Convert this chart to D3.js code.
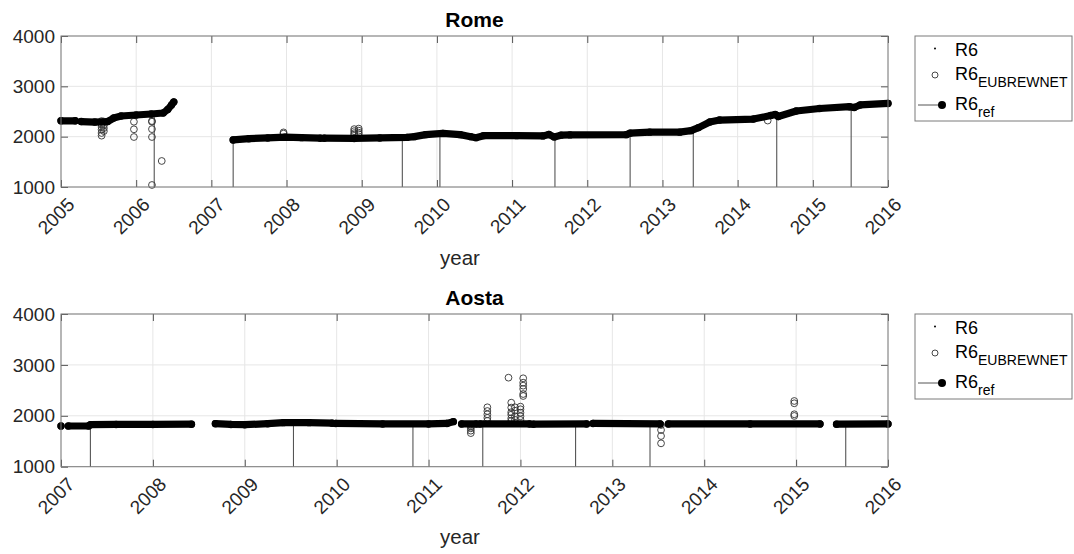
<!DOCTYPE html>
<html>
<head>
<meta charset="utf-8">
<script src="https://cdn.jsdelivr.net/npm/d3@7"></script>
<style>
  html, body { margin: 0; padding: 0; background: #fff; }
  svg { display: block; font-family: "Liberation Sans", Arial, Helvetica, sans-serif; }
</style>
</head>
<body>
<svg id="chart" width="1074" height="554"></svg>
<script>
// ---- Data --------------------------------------------------------------
// Reference R6 per station: [decimal year, R6]; null value = gap in record
const romeRef = [
  [2005.00, 2315], [2005.19, 2315], [2005.22, null],
  [2005.27, 2300], [2005.45, 2290], [2005.62, 2300], [2005.70, 2370], [2005.80, 2410],
  [2006.00, 2430], [2006.20, 2450], [2006.36, 2470], [2006.42, 2540], [2006.47, 2630],
  [2006.50, 2690], [2006.55, null],
  [2007.29, 1935], [2007.50, 1960], [2007.75, 1975], [2007.98, 1990], [2008.20, 1980],
  [2008.45, 1970], [2008.47, null],
  [2008.50, 1970], [2008.90, 1965], [2009.24, 1975], [2009.60, 1985], [2009.70, 2000],
  [2009.85, 2040], [2010.08, 2065], [2010.31, 2040], [2010.45, 2000], [2010.52, 1980],
  [2010.62, 2020], [2011.06, 2020], [2011.41, 2015], [2011.49, 2045], [2011.56, 1995],
  [2011.65, 2030], [2011.77, 2035], [2012.52, 2040], [2012.57, 2070], [2012.83, 2090],
  [2013.23, 2090], [2013.38, 2120], [2013.48, 2180], [2013.63, 2290], [2013.76, 2330],
  [2014.21, 2350], [2014.44, 2420], [2014.50, 2440], [2014.54, 2400], [2014.78, 2510],
  [2015.09, 2560], [2015.49, 2595], [2015.55, 2580], [2015.63, 2630], [2016.00, 2660]
];
const aostaRef = [
  [2007.00, 1800], [2007.03, null],
  [2007.08, 1800], [2007.30, 1800], [2007.32, 1825], [2007.60, 1830], [2008.00, 1830],
  [2008.42, 1835], [2008.50, null],
  [2008.68, 1845], [2008.85, 1830], [2009.00, 1825], [2009.25, 1845], [2009.42, 1865],
  [2009.70, 1865], [2009.95, 1855], [2009.97, null],
  [2009.99, 1850], [2010.50, 1840], [2011.00, 1840], [2011.20, 1850], [2011.27, 1885],
  [2011.30, null],
  [2011.36, 1840], [2011.52, 1840], [2011.54, null],
  [2011.56, 1840], [2012.10, 1840], [2012.12, null],
  [2012.14, 1835], [2012.72, 1840], [2012.75, null],
  [2012.79, 1850], [2013.52, 1840], [2013.56, null],
  [2013.61, 1840], [2014.50, 1840], [2015.26, 1840], [2015.35, null],
  [2015.44, 1835], [2016.00, 1840]
];

// Calibration dates (stems) and their R6_ref values
const romeStemYears  = [2006.24, 2007.29, 2009.54, 2010.04, 2011.57, 2012.57, 2013.41, 2014.52, 2015.51];
const romeStemValues = [2450, 1935, 1985, 2060, 1995, 2060, 2120, 2420, 2595];
const aostaStemYears  = [2007.32, 2009.53, 2010.83, 2011.59, 2012.60, 2013.41, 2015.54];
const aostaStemValues = [1825, 1865, 1840, 1840, 1840, 1840, 1835];

// R6 from EUBREWNET: [decimal year, R6]
const romeEub = [
  [2005.54, 2310], [2005.54, 2246], [2005.54, 2193], [2005.54, 2139], [2005.54, 2073], [2005.54, 2020],
  [2005.57, 2300], [2005.57, 2230], [2005.57, 2170], [2005.57, 2110],
  [2005.97, 2297], [2005.97, 2146], [2005.97, 1993],
  [2006.21, 2310], [2006.21, 2297], [2006.21, 2150], [2006.21, 1993], [2006.21, 1040],
  [2006.34, 1517],
  [2007.96, 2060], [2007.96, 2085],
  [2008.90, 2150], [2008.90, 2110], [2008.90, 2070], [2008.90, 2040],
  [2008.96, 2160], [2008.96, 2120], [2008.96, 2080], [2008.96, 2050],
  [2014.40, 2320]
];
const aostaEub = [
  [2011.46, 1820], [2011.46, 1790], [2011.46, 1754], [2011.46, 1708], [2011.46, 1660],
  [2011.64, 2167], [2011.64, 2094], [2011.64, 2029], [2011.64, 1960], [2011.64, 1900],
  [2011.87, 2749],
  [2011.90, 2258], [2011.90, 2161], [2011.90, 2070], [2011.90, 2021], [2011.90, 1950], [2011.90, 1900],
  [2011.94, 2167], [2011.94, 2100], [2011.94, 1990], [2011.94, 1920],
  [2012.00, 2180], [2012.00, 2128], [2012.00, 2060], [2012.00, 1990], [2012.00, 1920],
  [2012.03, 2737], [2012.03, 2650], [2012.03, 2592], [2012.03, 2527], [2012.03, 2428], [2012.03, 2389],
  [2013.53, 1819], [2013.53, 1721], [2013.53, 1603], [2013.53, 1459],
  [2014.98, 2291], [2014.98, 2246], [2014.98, 2030], [2014.98, 1997]
];

const romeYears  = [2005, 2006, 2007, 2008, 2009, 2010, 2011, 2012, 2013, 2014, 2015, 2016];
const aostaYears = [2007, 2008, 2009, 2010, 2011, 2012, 2013, 2014, 2015, 2016];
const r6Ticks = [1000, 2000, 3000, 4000];

// ---- Layout ------------------------------------------------------------
const svg = d3.select("#chart");
const left = 61, right = 888;
const textColor = "#262626";

const panels = [
  { title: "Rome", top: 36, bottom: 187, years: romeYears, ref: romeRef,
    stemYears: romeStemYears, stemValues: romeStemValues, eub: romeEub },
  { title: "Aosta", top: 314, bottom: 466.7, years: aostaYears, ref: aostaRef,
    stemYears: aostaStemYears, stemValues: aostaStemValues, eub: aostaEub }
];

panels.forEach(p => {
  const x = d3.scaleLinear().domain(d3.extent(p.years)).range([left, right]);
  const y = d3.scaleLinear().domain([1000, 4000]).range([p.bottom, p.top]);
  const g = svg.append("g");

  // grid
  const grid = g.append("g").attr("stroke", "#e6e6e6").attr("stroke-width", 1);
  p.years.forEach(v => grid.append("line")
    .attr("x1", x(v)).attr("x2", x(v)).attr("y1", p.top).attr("y2", p.bottom));
  r6Ticks.forEach(v => grid.append("line")
    .attr("x1", left).attr("x2", right).attr("y1", y(v)).attr("y2", y(v)));

  // inward ticks on all four sides
  const tl = 7;
  const axG = g.append("g");
  axG.append("g").attr("transform", `translate(0,${p.bottom})`)
    .call(d3.axisBottom(x).tickValues(p.years).tickSize(-tl).tickFormat(""));
  axG.append("g").attr("transform", `translate(0,${p.top})`)
    .call(d3.axisTop(x).tickValues(p.years).tickSize(-tl).tickFormat(""));
  axG.append("g").attr("transform", `translate(${left},0)`)
    .call(d3.axisLeft(y).tickValues(r6Ticks).tickSize(-tl).tickFormat(""));
  axG.append("g").attr("transform", `translate(${right},0)`)
    .call(d3.axisRight(y).tickValues(r6Ticks).tickSize(-tl).tickFormat(""));
  axG.selectAll(".domain").remove();
  axG.selectAll("line").attr("stroke", "#555").attr("stroke-width", 1);

  // stems (calibration dates)
  g.append("g").selectAll("line").data(p.stemYears).join("line")
    .attr("x1", d => x(d)).attr("x2", d => x(d))
    .attr("y1", y(1000)).attr("y2", (d, i) => y(p.stemValues[i]))
    .attr("stroke", "#555").attr("stroke-width", 1.1);

  // EUBREWNET R6 circles
  g.append("g").selectAll("circle").data(p.eub).join("circle")
    .attr("cx", d => x(d[0])).attr("cy", d => y(d[1])).attr("r", 3.4)
    .attr("fill", "none").attr("stroke", "#333").attr("stroke-width", 0.9);

  // R6_ref record
  const line = d3.line().defined(d => d[1] !== null)
    .x(d => x(d[0])).y(d => y(d[1]));
  g.append("path").datum(p.ref).attr("d", line)
    .attr("fill", "none").attr("stroke", "#000").attr("stroke-width", 7.2)
    .attr("stroke-linecap", "round").attr("stroke-linejoin", "round");
  g.append("g").selectAll("circle").data(p.ref.filter(d => d[1] !== null)).join("circle")
    .attr("cx", d => x(d[0])).attr("cy", d => y(d[1])).attr("r", 3.7).attr("fill", "#000");

  // box
  g.append("rect").attr("x", left).attr("y", p.top)
    .attr("width", right - left).attr("height", p.bottom - p.top)
    .attr("fill", "none").attr("stroke", "#7a7a7a").attr("stroke-width", 1);

  // y tick labels
  g.append("g").selectAll("text").data(r6Ticks).join("text")
    .attr("x", left - 6).attr("y", d => y(d)).attr("dy", "0.35em")
    .attr("text-anchor", "end").attr("font-size", 19).attr("fill", textColor)
    .text(d => d);

  // rotated x tick labels
  g.append("g").selectAll("text").data(p.years).join("text")
    .attr("transform", d => `translate(${x(d) + 10},${p.bottom + 14}) rotate(-45)`)
    .attr("dy", "0.35em").attr("text-anchor", "end")
    .attr("font-size", 19).attr("fill", textColor)
    .text(d3.format("d"));

  // title and axis label
  g.append("text").attr("x", (left + right) / 2).attr("y", p.top - 9.5)
    .attr("text-anchor", "middle").attr("font-size", 21).attr("font-weight", "bold")
    .attr("fill", "#000").text(p.title);
  g.append("text").attr("x", 460).attr("y", p.bottom + 77.5)
    .attr("text-anchor", "middle").attr("font-size", 20.5).attr("fill", textColor)
    .text("year");

  // legend
  const lg = g.append("g").attr("transform", `translate(915,${p.top})`);
  lg.append("rect").attr("width", 157).attr("height", 85)
    .attr("fill", "#fff").attr("stroke", "#7a7a7a").attr("stroke-width", 1);
  lg.append("circle").attr("cx", 20).attr("cy", 12.5).attr("r", 1).attr("fill", "#000");
  lg.append("circle").attr("cx", 20).attr("cy", 39).attr("r", 3)
    .attr("fill", "none").attr("stroke", "#333").attr("stroke-width", 0.9);
  lg.append("line").attr("x1", 3).attr("x2", 27).attr("y1", 69).attr("y2", 69)
    .attr("stroke", "#555").attr("stroke-width", 1);
  lg.append("circle").attr("cx", 27).attr("cy", 69).attr("r", 4).attr("fill", "#000");

  const lt = lg.append("g").attr("font-size", 18).attr("fill", "#000");
  lt.append("text").attr("x", 40).attr("y", 20).text("R6");
  const t2 = lt.append("text").attr("x", 40).attr("y", 44).text("R6");
  t2.append("tspan").attr("dy", 7).attr("font-size", 14).text("EUBREWNET");
  const t3 = lt.append("text").attr("x", 40).attr("y", 74).text("R6");
  t3.append("tspan").attr("dy", 7).attr("font-size", 14).text("ref");
});
</script>
</body>
</html>
